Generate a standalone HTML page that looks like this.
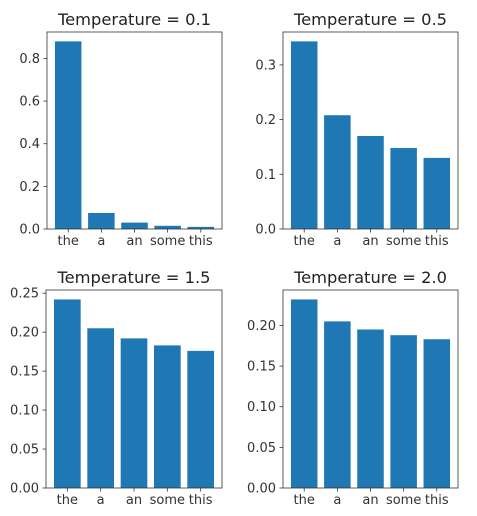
<!DOCTYPE html>
<html><head><meta charset="utf-8"><style>
html,body{margin:0;padding:0;background:#fff;}
svg{display:block;font-family:"DejaVu Sans","Liberation Sans",sans-serif;}
</style></head><body>
<svg id="chart" width="477" height="516" viewBox="0 0 477 516" xmlns="http://www.w3.org/2000/svg"></svg>
<script>
const categories = ["the","a","an","some","this"];
const titles = ["Temperature = 0.1","Temperature = 0.5","Temperature = 1.5","Temperature = 2.0"];
const valuesT01 = [0.88, 0.075, 0.03, 0.015, 0.01];
const valuesT05 = [0.343, 0.208, 0.170, 0.148, 0.130];
const valuesT15 = [0.242, 0.205, 0.192, 0.183, 0.176];
const valuesT20 = [0.232, 0.205, 0.195, 0.188, 0.183];
const ticksT01 = [0.0, 0.2, 0.4, 0.6, 0.8];
const ticksT05 = [0.0, 0.1, 0.2, 0.3];
const ticksT15 = [0.00, 0.05, 0.10, 0.15, 0.20, 0.25];
const ticksT20 = [0.00, 0.05, 0.10, 0.15, 0.20];

const NS = "http://www.w3.org/2000/svg";
const svg = document.getElementById("chart");
function mk(tag, attrs, parent){
  const e = document.createElementNS(NS, tag);
  for (const k in attrs) e.setAttribute(k, attrs[k]);
  (parent||svg).appendChild(e);
  return e;
}
const panels = [
  {vals: valuesT01, ticks: ticksT01, dec: 1, box: [47, 32, 222, 229], title: titles[0]},
  {vals: valuesT05, ticks: ticksT05, dec: 1, box: [283, 32, 458, 229], title: titles[1]},
  {vals: valuesT15, ticks: ticksT15, dec: 2, box: [46, 290, 222, 488], title: titles[2]},
  {vals: valuesT20, ticks: ticksT20, dec: 2, box: [283, 290, 458, 488], title: titles[3]}
];
panels.forEach((p, i) => {
  const [L, T, R, B] = p.box;
  const g = mk("g", {});
  
  
  const ymax = Math.max(...p.vals) * 1.05;
  const xmin = -0.64, xmax = 4.64;
  const xs = v => L + (v - xmin) / (xmax - xmin) * (R - L);
  const ys = v => B - v / ymax * (B - T);
  p.vals.forEach((v, j) => {
    const r = mk("rect", {x: xs(j - 0.4), y: ys(v), width: xs(j + 0.4) - xs(j - 0.4), height: B - ys(v), fill: "#1f77b4"}, g);
    
    
    mk("line", {x1: xs(j), x2: xs(j), y1: B, y2: B + 3.5, stroke: "#333", "stroke-width": 0.8}, g);
    const t = mk("text", {x: xs(j), y: B + 16, "text-anchor": "middle", "font-size": 13, fill: "#333"}, g);
    t.textContent = categories[j];
    
    
  });
  p.ticks.forEach(tv => {
    const y = ys(tv);
    mk("line", {x1: L - 3.5, x2: L, y1: y, y2: y, stroke: "#333", "stroke-width": 0.8}, g);
    const t = mk("text", {x: L - 7, y: y + 4.5, "text-anchor": "end", "font-size": 13, fill: "#333"}, g);
    t.textContent = tv.toFixed(p.dec);
    
    
  });
  const fr = mk("rect", {x: L, y: T, width: R - L, height: B - T, fill: "none", stroke: "#333", "stroke-width": 0.8}, g);
  
  
  const tt = mk("text", {x: (L + R) / 2, y: T - 7, "text-anchor": "middle", "font-size": 16.3, fill: "#222"}, g);
  tt.textContent = p.title;
  
  
});
</script>
</body></html>
